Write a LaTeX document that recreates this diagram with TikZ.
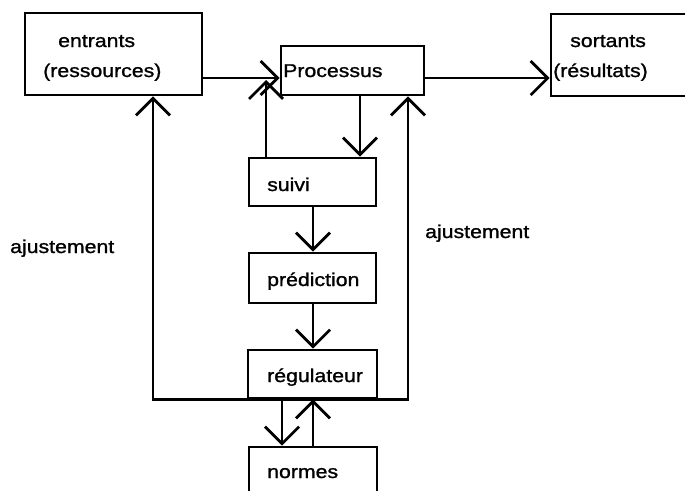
\documentclass[tikz,border=0pt]{standalone}
\usepackage{fontspec}
\setmainfont{Liberation Sans}[FakeStretch=1.15,FakeBold=1.2]
\usetikzlibrary{arrows.meta}
\begin{document}
\begin{tikzpicture}[x=1pt,y=-1pt,
  box/.style={draw, line width=2.6pt, rectangle, inner sep=0pt},
  lbl/.style={anchor=base west, inner sep=0pt, font=\fontsize{18.5}{20}\selectfont},
  link/.style={line width=2.8pt, line join=miter},
  arr/.style={link, -{Straight Barb[length=17pt,width=34pt]}}]
\useasboundingbox (0,0) rectangle (685,490);
\clip (0,0) rectangle (685,490);

% boxes
\node[box, minimum width=177, minimum height=82] (entrants) at (113.5,54) {};
\node[box, minimum width=143, minimum height=49] (processus) at (352.5,70.5) {};
\node[box, minimum width=169, minimum height=82] (sortants) at (635.5,55) {};
\node[box, minimum width=127, minimum height=48] (suivi) at (312.5,182) {};
\node[box, minimum width=127, minimum height=50] (prediction) at (312.5,278) {};
\node[box, minimum width=129, minimum height=48] (regulateur) at (312.5,374) {};
\node[box, minimum width=128, minimum height=73] (normes) at (313,483.5) {};

% box labels
\node[lbl] (t-entrants) at (58,47) {entrants};
\node[lbl] (t-ressources) at (43,77) {(ressources)};
\node[lbl] (t-processus) at (283,77) {Processus};
\node[lbl] (t-sortants) at (570,47) {sortants};
\node[lbl] (t-resultats) at (553,77) {(résultats)};
\node[lbl] (t-suivi) at (267,191) {suivi};
\node[lbl] (t-prediction) at (267,286) {prédiction};
\node[lbl] (t-regulateur) at (267,382) {régulateur};
\node[lbl] (t-normes) at (267,478) {normes};
\node[lbl] (t-aj1) at (10,253) {ajustement};
\node[lbl] (t-aj2) at (425,238) {ajustement};

% helper coordinates for the feedback loops
\coordinate (lx) at (153,0);
\coordinate (rx) at (408,0);
\coordinate (sx) at (266,0);
\coordinate (px) at (360,0);
\coordinate (mx) at (313,0);
\coordinate (dx) at (282,0);
\coordinate (hy) at (0,78);

% main flow
\draw[arr] (entrants.east |- hy) -- (processus.west |- hy);
\draw[arr] (processus.east |- hy) -- (sortants.west |- hy);
\draw[arr] (processus.south -| px) -- (suivi.north -| px);
\draw[arr] (suivi.north -| sx) -- (sx |- 0,80);
\draw[arr] (suivi.south -| mx) -- (prediction.north -| mx);
\draw[arr] (prediction.south -| mx) -- (regulateur.north -| mx);

% adjustment loops, running along the regulator's lower edge
\draw[arr] (regulateur.south) -| (entrants.south -| lx);
\draw[arr] (regulateur.south) -| (processus.south -| rx);

% norms exchange
\draw[arr] (regulateur.south -| dx) -- (normes.north -| dx);
\draw[arr] (normes.north -| mx) -- (regulateur.south -| mx);
\end{tikzpicture}
\end{document}
